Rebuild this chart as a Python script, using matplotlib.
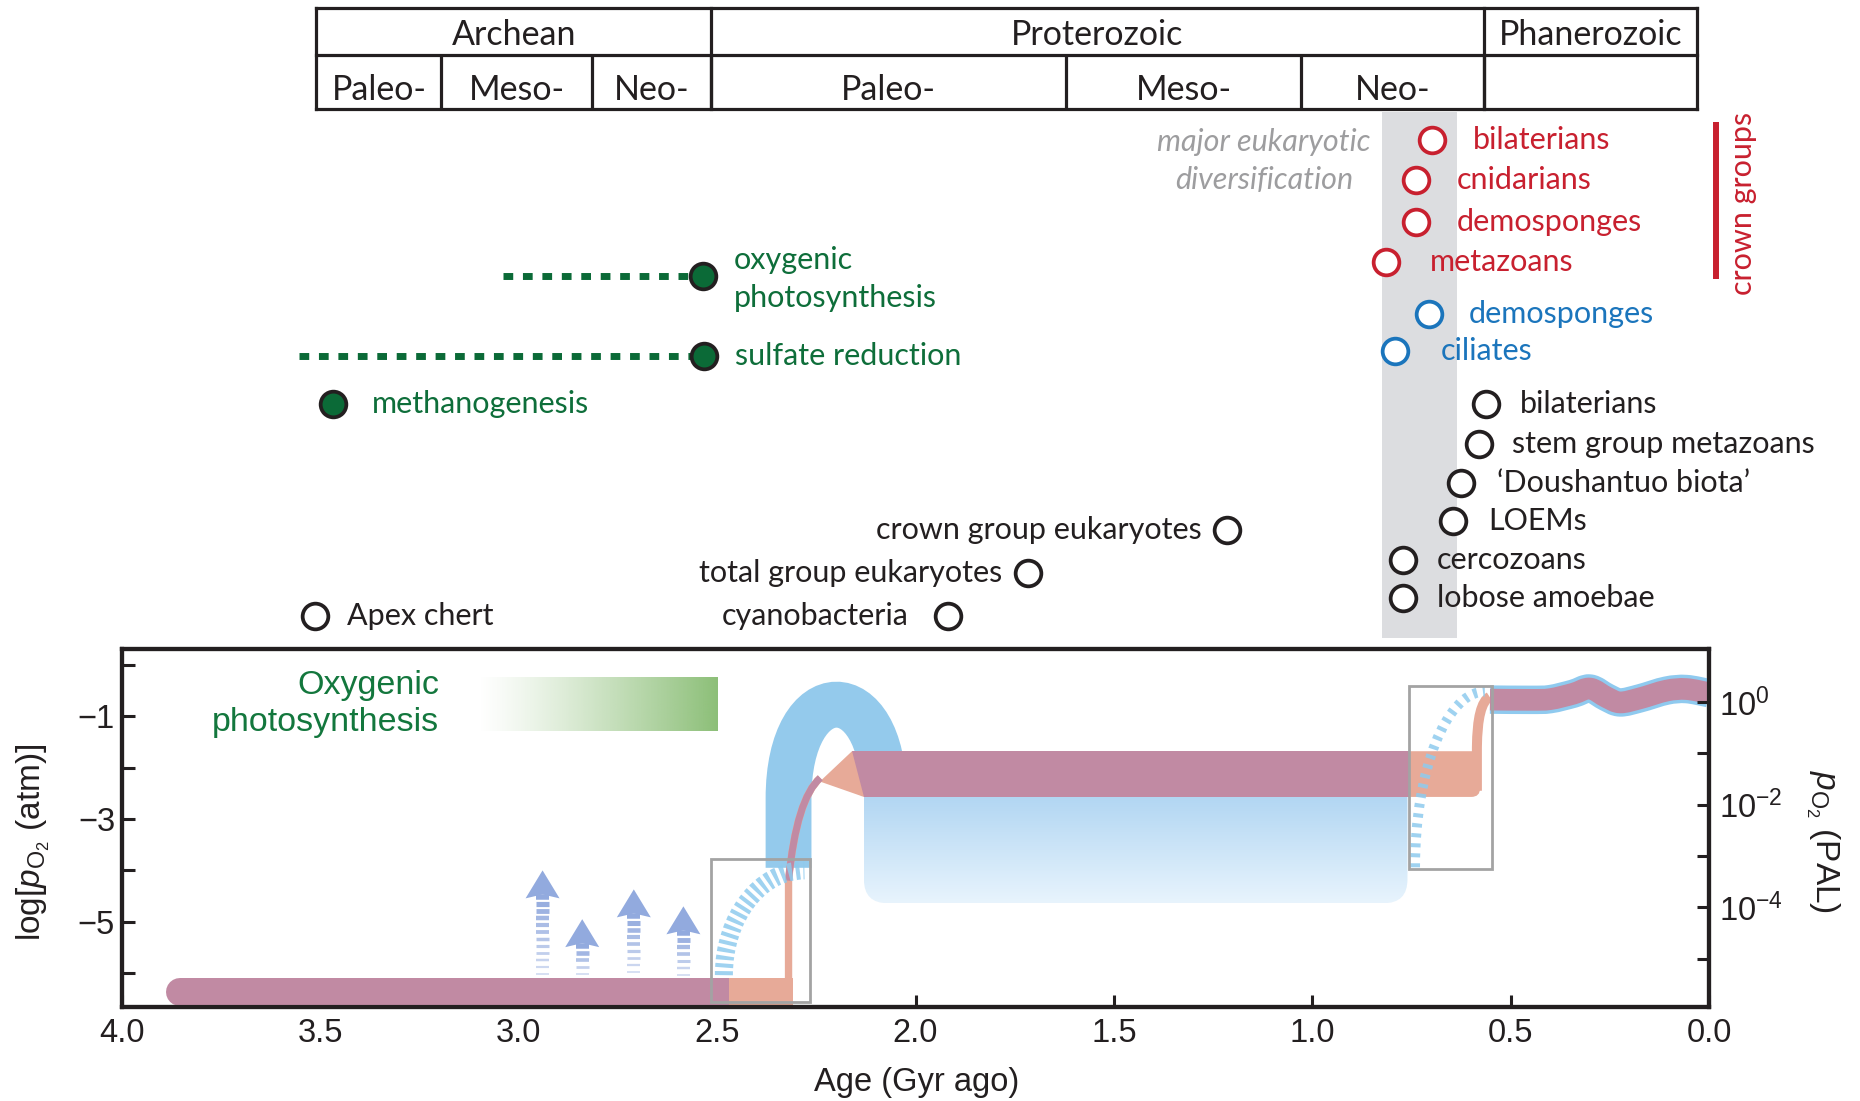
import numpy as np
import matplotlib
matplotlib.use('Agg')
import matplotlib.pyplot as plt
from matplotlib.path import Path
from matplotlib.patches import PathPatch, Rectangle, FancyBboxPatch, Polygon
from matplotlib.collections import LineCollection
from matplotlib.colors import LinearSegmentedColormap, to_rgb

plt.rcParams['font.family'] = ['Liberation Sans', 'DejaVu Sans']
plt.rcParams['mathtext.fontset'] = 'custom'
plt.rcParams['mathtext.rm'] = 'Liberation Sans'
plt.rcParams['mathtext.it'] = 'Liberation Sans:italic'
plt.rcParams['mathtext.bf'] = 'Liberation Sans:bold'

# ======================= DATA =======================
# geologic time scale (Gyr ago)
eon_names = ['Archean', 'Proterozoic', 'Phanerozoic']
eon_bounds = [3.51, 2.515, 0.568, 0.03]
era_names = ['Paleo-', 'Meso-', 'Neo-', 'Paleo-', 'Meso-', 'Neo-', '']
era_bounds = [3.51, 3.195, 2.815, 2.515, 1.62, 1.028, 0.568, 0.03]

# major eukaryotic diversification window (Gyr)
diversification = [0.825, 0.634]

# metabolisms (green)
metab_labels = ['oxygenic\nphotosynthesis', 'sulfate reduction', 'methanogenesis']
metab_ages = [2.535, 2.532, 3.467]
metab_range_start = [3.04, 3.555, np.nan]

# fossil / biomarker records (black)
black_labels = ['Apex chert', 'cyanobacteria', 'total group eukaryotes',
                'crown group eukaryotes', 'bilaterians', 'stem group metazoans',
                '\u2018Doushantuo biota\u2019', 'LOEMs', 'cercozoans', 'lobose amoebae']
black_ages = [3.513, 1.919, 1.716, 1.214, 0.562, 0.580, 0.625, 0.646, 0.771, 0.771]

# blue records
blue_labels = ['demosponges', 'ciliates']
blue_ages = [0.706, 0.792]

# crown groups (red)
red_labels = ['bilaterians', 'cnidarians', 'demosponges', 'metazoans']
red_ages = [0.697, 0.738, 0.738, 0.813]

# oxygen history, log pO2 (atm)
archean_top = -6.10
archean_span = [3.89, 2.47]
proterozoic_level = [-2.57, -1.68]
proterozoic_span = [2.16, 2.13, 0.754]  # start (top), start (bottom), end
classic_low = -4.64                      # classic-view Proterozoic floor
classic_span = [2.13, 0.76]
goe_peak_level = -0.78                   # classic-view GOE overshoot apex
goe_legs = [2.32, 2.08]
goe_base = -3.95
phan_ages = [0.552, 0.45, 0.40, 0.342, 0.30, 0.258, 0.224, 0.174, 0.107, 0.057, 0.0]
phan_vals = [-0.675, -0.68, -0.666, -0.56, -0.46, -0.63, -0.73, -0.65, -0.50, -0.47, -0.55]
goe_transition = [2.50, 2.32, 2.24, -2.2]    # start, rise age, end age, end level
noe_transition = [0.585, 0.553, -0.62]
arrow_ages = [2.94, 2.84, 2.71, 2.585]
arrow_tips = [-4.0, -4.95, -4.37, -4.7]
oxy_photo_span = [3.103, 2.50]
oxy_photo_level = [-1.28, -0.23]
box_goe = [2.515, 2.266, -6.57, -3.78]
box_noe = [0.756, 0.547, -3.98, -0.41]
dash_goe = [(2.483, -6.04), (2.28, -4.0)]
dash_noe = [(0.741, -3.94), (0.565, -0.52)]

x_ticks = [4.0, 3.5, 3.0, 2.5, 2.0, 1.5, 1.0, 0.5, 0.0]
y_ticks = [0, -1, -2, -3, -4, -5, -6]
y_ticklabels = ['', '\u22121', '', '\u22123', '', '\u22125', '']
pal_ticks = [0, -1, -2, -3, -4, -5]
pal_ticklabels = [r'$10^{0}$', '', r'$10^{-2}$', '', r'$10^{-4}$', '']
pal_offset = 0.72   # log PAL = log pO2 + offset

# ======================= LAYOUT / STYLE =======================
W, H = 1860, 1101
axL, axR, axT, axB = 122, 1709, 649, 1007
YLIM = (-6.66, 0.31)
XPX = (axR - axL) / 4.0
YPX = (axB - axT) / (YLIM[1] - YLIM[0])
ASPECT = XPX / YPX

black_rows = [616, 616, 573, 530, 404, 444, 483, 521, 560, 598]
black_side = ['r', 'l', 'l', 'l', 'r', 'r', 'r', 'r', 'r', 'r']
black_off = [32, 39, 26, 26, 34, 33, 36, 36, 34, 34]
blue_rows = [314, 351]
blue_off = [40, 46]
red_rows = [140, 180, 222, 262]
red_off = [40, 41, 41, 43]
metab_rows = [276, 356, 404]
metab_off = [31, 31, 38]
metab_dy = [-3, 0, 0]

C_BLACK = '#231f20'
C_RED = '#c8202f'
C_BLUEC = '#1b75bc'
C_GREEN = '#0e6e3a'
C_GREENFILL = '#0b6a37'
C_PURPLE = '#c18aa3'
C_ORANGE = '#e7aa98'
C_ARCH = '#94caec'
C_ARROW = '#92aade'
C_BOX = '#a3a3a3'
C_BAND = '#dcdde0'
TOPFONT = ['Lato', 'DejaVu Sans']
LBL = 22
AXFS = 23.5
px = 0.72  # points per pixel at dpi 100

fig = plt.figure(figsize=(W / 100, H / 100), dpi=100)
ax = fig.add_axes([axL / W, 1 - axB / H, (axR - axL) / W, (axB - axT) / H])
axt = fig.add_axes([axL / W, 1 - axT / H, (axR - axL) / W, axT / H])
axt.set_xlim(4.0, 0.0)
axt.set_ylim(axT, 0)
axt.axis('off')

# ---------------- time-scale table ----------------
tbl_y = [8, 55, 109]
lc = axt.hlines(tbl_y, eon_bounds[0], eon_bounds[-1], color=C_BLACK, lw=2.3)
lc.set_capstyle('projecting')
lc = axt.vlines(eon_bounds, tbl_y[0], tbl_y[2], color=C_BLACK, lw=2.3)
lc.set_capstyle('projecting')
axt.vlines(era_bounds[1:-1], tbl_y[1], tbl_y[2], color=C_BLACK, lw=2.3)
for i, nm in enumerate(eon_names):
    axt.text((eon_bounds[i] + eon_bounds[i + 1]) / 2, 35, nm,
             ha='center', va='center', fontsize=24.5, family=TOPFONT, color=C_BLACK)
for i, nm in enumerate(era_names):
    axt.text((era_bounds[i] + era_bounds[i + 1]) / 2, 90, nm,
             ha='center', va='center', fontsize=24.5, family=TOPFONT, color=C_BLACK)

# diversification band
axt.add_patch(Rectangle((diversification[1], 112), diversification[0] - diversification[1],
                        638 - 112, fc=C_BAND, ec='none', zorder=0))
axt.text(1.122, 161, 'major eukaryotic\ndiversification', ha='center', va='center',
         style='italic', color='#9d9d9f', fontsize=LBL, family=TOPFONT, linespacing=1.45)

def label(axx, age, row, text, side, off, color, dy=0):
    if side == 'r':
        axx.annotate(text, (age, row), xytext=(off * px, dy * px), textcoords='offset points',
                     ha='left', va='center', fontsize=LBL, color=color, family=TOPFONT,
                     linespacing=1.47)
    else:
        axx.annotate(text, (age, row), xytext=(-off * px, dy * px), textcoords='offset points',
                     ha='right', va='center', fontsize=LBL, color=color, family=TOPFONT)

# metabolisms
for lab, a, s, r, o, dy in zip(metab_labels, metab_ages, metab_range_start, metab_rows,
                               metab_off, metab_dy):
    if not np.isnan(s):
        axt.plot([s, a], [r, r], color=C_GREENFILL, lw=5, linestyle=(0, (1.4, 1.4)),
                 solid_capstyle='butt', dash_capstyle='butt', zorder=2)
    axt.plot([a], [r], 'o', ms=18.5, mfc=C_GREENFILL, mec=C_BLACK, mew=2.7, zorder=3)
    label(axt, a, r, lab, 'r', o, C_GREEN, dy)

for labs, ages, rows, sides, offs, col in [
        (black_labels, black_ages, black_rows, black_side, black_off, C_BLACK),
        (blue_labels, blue_ages, blue_rows, ['r'] * 2, blue_off, C_BLUEC),
        (red_labels, red_ages, red_rows, ['r'] * 4, red_off, C_RED)]:
    axt.plot(ages, rows, 'o', ms=18.5, mfc='white', mec=col, mew=2.7, ls='none', zorder=3)
    for lab, a, r, sd, o in zip(labs, ages, rows, sides, offs):
        label(axt, a, r, lab, sd, o, col)

# crown groups bracket
axt.plot([-0.018, -0.018], [122, 279], color=C_RED, lw=4.3, clip_on=False,
         solid_capstyle='butt')
axt.text(-0.086, 203, 'crown groups', rotation=90, ha='center', va='center',
         color=C_RED, fontsize=LBL, family=TOPFONT, clip_on=False)

# ======================= MAIN PLOT =======================
# classic view: blue gradient Proterozoic region
blue_box = FancyBboxPatch((classic_span[1], classic_low), classic_span[0] - classic_span[1],
                          proterozoic_level[1] - classic_low,
                          boxstyle='round,pad=0,rounding_size=0.06', mutation_aspect=ASPECT,
                          fc='none', ec='none', zorder=1)
ax.add_patch(blue_box)
bcmap = LinearSegmentedColormap.from_list('bg', ['#e8f4fd', '#9ac9ee'])
im = ax.imshow(np.linspace(0, 1, 256)[:, None], cmap=bcmap, origin='lower', aspect='auto',
               extent=[classic_span[0], classic_span[1], classic_low, proterozoic_level[1]],
               zorder=1, interpolation='bilinear')
im.set_clip_path(blue_box)

# classic view: GOE overshoot arch (cubic Bezier with vertical legs)
ctrl = -2.6 + (goe_peak_level + 2.6) / 0.75
arch = Path([(goe_legs[0], goe_base), (goe_legs[0], -2.6), (goe_legs[0], ctrl),
             (goe_legs[1], ctrl), (goe_legs[1], -2.55)],
            [Path.MOVETO, Path.LINETO, Path.CURVE4, Path.CURVE4, Path.CURVE4])
ax.add_patch(PathPatch(arch, fill=False, ec=C_ARCH, lw=33, capstyle='butt', zorder=1.5))

# orange transitions
g0, g1, g2, gl = goe_transition
ax.add_patch(Rectangle((g1 - 0.01, YLIM[0] - 0.2), g0 - g1 + 0.01, archean_top - YLIM[0] + 0.2,
                       fc=C_ORANGE, ec='none', zorder=2))
rise = Path([(g1, archean_top - 0.1), (g1, -4.2), (g1 - 0.02, -2.6), (g2, gl)],
            [Path.MOVETO, Path.LINETO, Path.CURVE3, Path.CURVE3])
ax.add_patch(PathPatch(rise, fill=False, ec=C_ORANGE, lw=5.3, capstyle='butt', zorder=2))
ax.add_patch(Polygon([(2.241, -2.27), (proterozoic_span[0], proterozoic_level[1]),
                      (2.10, proterozoic_level[1]), (2.10, proterozoic_level[0]),
                      (proterozoic_span[1], proterozoic_level[0])],
                     closed=True, fc=C_ORANGE, ec='none', zorder=2))
n0, n1, nl = noe_transition
ax.add_patch(FancyBboxPatch((0.577, proterozoic_level[0]), 0.20,
                            proterozoic_level[1] - proterozoic_level[0],
                            boxstyle='round,pad=0,rounding_size=0.022', mutation_aspect=ASPECT,
                            fc=C_ORANGE, ec='none', zorder=2))
nrise = Path([(n0, -2.45), (n0, -1.6), (n0 - 0.001, -0.75), (n1, nl)],
             [Path.MOVETO, Path.LINETO, Path.CURVE3, Path.CURVE3])
ax.add_patch(PathPatch(nrise, fill=False, ec=C_ORANGE, lw=7.2, capstyle='butt', zorder=2))

# purple (new view)
a_lw = 28 * px
a_center = archean_top - 14 / YPX
ax.plot([archean_span[0] - 14 / XPX, 3.0], [a_center, a_center], color=C_PURPLE, lw=a_lw,
        solid_capstyle='round', zorder=3)
ax.plot([3.2, archean_span[1]], [a_center, a_center], color=C_PURPLE, lw=a_lw,
        solid_capstyle='butt', zorder=3)
ax.add_patch(Polygon([(proterozoic_span[0], proterozoic_level[1]),
                      (proterozoic_span[2], proterozoic_level[1]),
                      (proterozoic_span[2], proterozoic_level[0]),
                      (proterozoic_span[1], proterozoic_level[0])],
                     closed=True, fc=C_PURPLE, ec='none', zorder=3))
prise = Path([(g1, -4.2), (g1 - 0.02, -2.6), (g2, gl)],
             [Path.MOVETO, Path.CURVE3, Path.CURVE3])
ax.add_patch(PathPatch(prise, fill=False, ec=C_PURPLE, lw=5.0, capstyle='butt', zorder=3))

# Phanerozoic: smooth curve through the read points (Catmull-Rom as cubic Beziers)
P = np.column_stack([phan_ages, phan_vals])
Pp = np.vstack([P[0], P, P[-1]])
verts = [tuple(P[0])]
codes = [Path.MOVETO]
for i in range(1, len(Pp) - 2):
    c1 = Pp[i] + (Pp[i + 1] - Pp[i - 1]) / 6
    c2 = Pp[i + 1] - (Pp[i + 2] - Pp[i]) / 6
    verts += [tuple(c1), tuple(c2), tuple(Pp[i + 1])]
    codes += [Path.CURVE4] * 3
phan_path = Path(verts, codes)
ax.add_patch(PathPatch(phan_path, fill=False, ec='#8fcaef', lw=20.5, capstyle='butt',
                       joinstyle='round', zorder=3))
ax.add_patch(PathPatch(phan_path, fill=False, ec=C_PURPLE, lw=15.6, capstyle='butt',
                       joinstyle='round', zorder=3.1))

# dashed (uncertain) classic transitions
def qarc(p0, p3, lw, on, off):
    (x0, y0), (x3, y3) = p0, p3
    k = 0.552
    pth = Path([(x0, y0), (x0, y0 + k * (y3 - y0)), (x3 + k * (x0 - x3), y3), (x3, y3)],
               [Path.MOVETO, Path.CURVE4, Path.CURVE4, Path.CURVE4])
    ax.add_patch(PathPatch(pth, fill=False, ec='#8ecbee', lw=lw, alpha=0.85,
                           linestyle=(0, (on / lw, off / lw)), capstyle='butt', zorder=4))
qarc(dash_goe[0], dash_goe[1], 13.0, 2.9, 2.6)
qarc(dash_noe[0], dash_noe[1], 7.2, 2.9, 4.3)

# arrows (whiffs of oxygen)
hw = 17 / XPX
hh = 28 / YPX
half_shaft = 6.5 / XPX
for a, tip in zip(arrow_ages, arrow_tips):
    base = tip - hh
    ax.add_patch(Polygon([(a, tip), (a + hw, base), (a, base + 4 / YPX), (a - hw, base)],
                         closed=True, fc=C_ARROW, ec='none', zorder=4))
    ys = np.arange(base + 1 / YPX, archean_top + 0.05, -7 / YPX)
    t = np.linspace(0, 1, len(ys))
    segs = [[(a - half_shaft, y), (a + half_shaft, y)] for y in ys]
    cols = [(*to_rgb(C_ARROW), 1 - 0.6 * tt) for tt in t]
    lws = (5.5 - 3.7 * t) * px
    ax.add_collection(LineCollection(segs, colors=cols, linewidths=lws, capstyle='butt',
                                     zorder=4))

# oxygenic photosynthesis gradient bar
grn = np.zeros((1, 256, 4))
grn[..., :3] = to_rgb('#8cbf78')
grn[..., 3] = np.linspace(0, 1, 256) ** 1.2
ax.imshow(grn, extent=[oxy_photo_span[0], oxy_photo_span[1], oxy_photo_level[0],
                       oxy_photo_level[1]], aspect='auto', zorder=2, interpolation='bilinear')
ax.text(3.20, -0.76, 'Oxygenic\nphotosynthesis', ha='right', va='center', color='#13773d',
        fontsize=24.5, linespacing=1.28)

# grey boxes
for b in (box_goe, box_noe):
    ax.add_patch(Rectangle((b[1], b[2]), b[0] - b[1], b[3] - b[2], fill=False, ec=C_BOX,
                           lw=2.0, zorder=5))

# axes styling
ax.set_xlim(4.0, 0.0)
ax.set_ylim(*YLIM)
ax.set_xticks(x_ticks)
ax.set_xticklabels(['%.1f' % v for v in x_ticks])
ax.set_yticks(y_ticks)
ax.set_yticklabels(y_ticklabels)
ax.tick_params(direction='in', length=9, width=2.2, labelsize=AXFS, color=C_BLACK,
               labelcolor=C_BLACK)
ax.tick_params(axis='x', pad=8)
ax.tick_params(axis='y', pad=5)
ax2 = ax.twinx()
ax2.set_ylim(YLIM[0] + pal_offset, YLIM[1] + pal_offset)
ax2.set_yticks(pal_ticks)
ax2.set_yticklabels(pal_ticklabels)
ax2.tick_params(direction='in', length=9, width=2.2, labelsize=AXFS, pad=7, color=C_BLACK,
                labelcolor=C_BLACK)
for a_ in (ax, ax2):
    for sp in a_.spines.values():
        sp.set_linewidth(3)
        sp.set_color(C_BLACK)

fig.text(917 / W, 1 - 1083 / H, 'Age (Gyr ago)', ha='center', va='center', fontsize=AXFS,
         color=C_BLACK)
fig.text(33 / W, 1 - 842 / H, r'log[$p_{\mathrm{O}_2}$ (atm)]', rotation=90, ha='center',
         va='center', fontsize=AXFS + 0.5, color=C_BLACK)
fig.text(1823 / W, 1 - 842 / H, r'$p_{\mathrm{O}_2}$ (PAL)', rotation=270, ha='center',
         va='center', fontsize=AXFS + 0.5, color=C_BLACK)

fig.savefig('out.png', dpi=100)
